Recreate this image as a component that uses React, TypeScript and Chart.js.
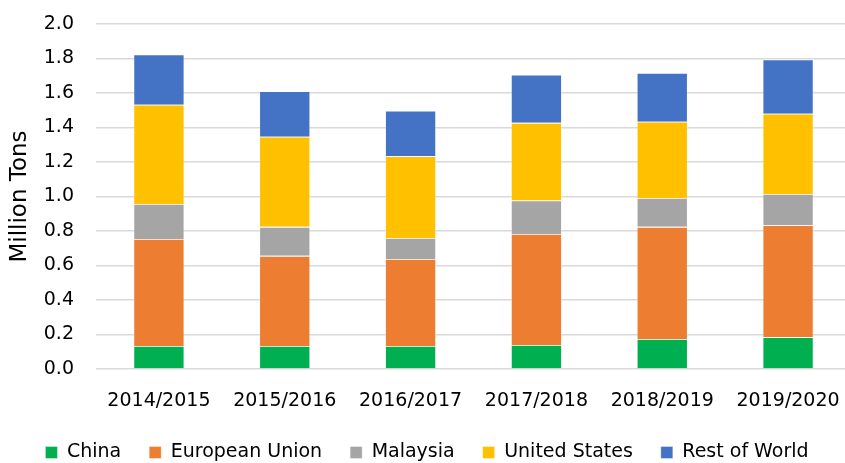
import React, { useEffect, useRef } from "react";
import { Chart, registerables } from "chart.js";

Chart.register(...registerables);

const categories = ["2014/2015", "2015/2016", "2016/2017", "2017/2018", "2018/2019", "2019/2020"];
const china = [0.133, 0.133, 0.133, 0.139, 0.174, 0.184];
const europeanUnion = [0.621, 0.523, 0.505, 0.644, 0.65, 0.65];
const malaysia = [0.203, 0.168, 0.122, 0.194, 0.168, 0.181];
const unitedStates = [0.575, 0.522, 0.474, 0.45, 0.441, 0.465];
const restOfWorld = [0.292, 0.265, 0.263, 0.279, 0.283, 0.315];
const yTicks = [0, 0.2, 0.4, 0.6, 0.8, 1.0, 1.2, 1.4, 1.6, 1.8, 2.0];

const FONT = "'DejaVu Sans', sans-serif";
const CANVAS_W = 851;

export default function App() {
  const ref = useRef<HTMLCanvasElement>(null);
  useEffect(() => {
    if (!ref.current) return;
    const mk = (label: string, data: number[], color: string) => ({
      label,
      data,
      backgroundColor: color,
      borderColor: "rgba(255,255,255,0.45)",
      borderWidth: 0.8,
      barPercentage: 0.405,
      categoryPercentage: 1.0,
    });
    const chart = new Chart(ref.current, {
      type: "bar",
      data: {
        labels: categories,
        datasets: [
          mk("China", china, "#00B050"),
          mk("European Union", europeanUnion, "#ED7D31"),
          mk("Malaysia", malaysia, "#A5A5A5"),
          mk("United States", unitedStates, "#FFC000"),
          mk("Rest of World", restOfWorld, "#4472C4"),
        ],
      },
      options: {
        animation: false,
        responsive: false,
        maintainAspectRatio: false,
        layout: { padding: { top: 24, right: 0, left: 3, bottom: -9 } },
        plugins: {
          tooltip: { enabled: false },
          legend: {
            position: "bottom",
            labels: {
              boxWidth: 12,
              boxHeight: 12,
              padding: 28,
              color: "#000",
              font: { family: FONT, size: 19 },
            },
          },
        },
        scales: {
          x: {
            stacked: true,
            grid: { display: false, drawTicks: false },
            border: { display: false },
            ticks: { color: "#000", font: { family: FONT, size: 19 }, padding: 21, maxRotation: 0 },
            afterFit: (axis: any) => {
              axis.height = 46;
              axis.paddingLeft = 0;
              axis.paddingRight = 0;
            },
          },
          y: {
            stacked: true,
            min: 0,
            max: 2.0,
            afterBuildTicks: (axis: any) => {
              axis.ticks = yTicks.map((v) => ({ value: v }));
            },
            afterFit: (axis: any) => {
              axis.width = 93;
              axis.paddingTop = 0;
              axis.paddingBottom = 0;
            },
            grid: { color: "#d9d9d9", lineWidth: 1.5, drawTicks: false },
            border: { display: false },
            ticks: {
              color: "#000",
              font: { family: FONT, size: 19 },
              padding: 22,
              callback: (v: any) => Number(v).toFixed(1),
            },
            title: {
              display: true,
              text: "Million Tons",
              color: "#000",
              font: { family: FONT, size: 23 },
              padding: { top: 3, bottom: 2 },
            },
          },
        },
      },
    });
    return () => chart.destroy();
  }, []);
  return (
    <div style={{ position: "absolute", left: 0, top: 0, width: 845, height: 463, background: "#fff", overflow: "hidden" }}>
      <canvas ref={ref} width={CANVAS_W} height={463} style={{ width: CANVAS_W, height: 463, display: "block" }} />
    </div>
  );
}
